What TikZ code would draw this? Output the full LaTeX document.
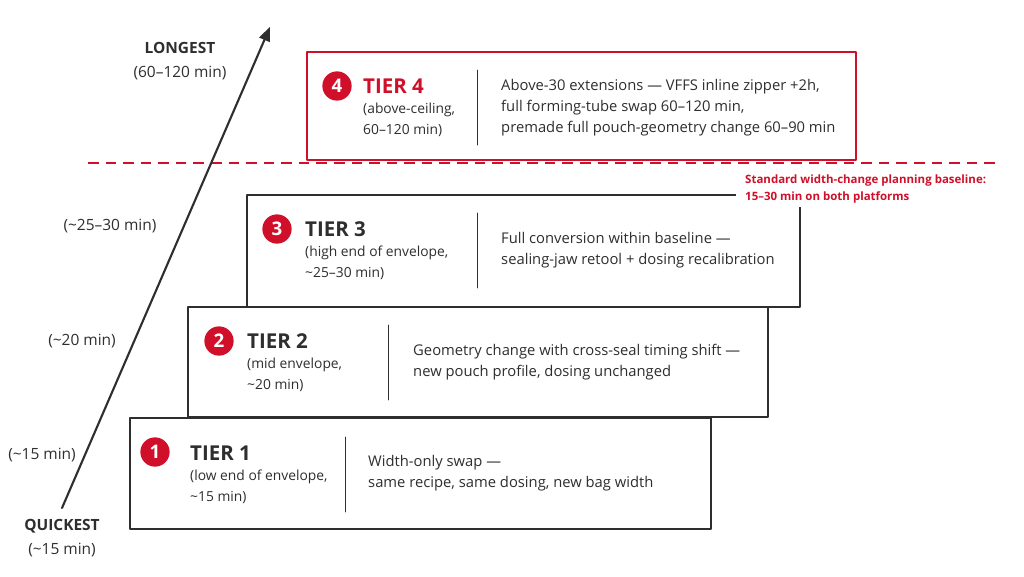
\documentclass[tikz,border=0pt]{standalone}
\usepackage{fontspec}
\setmainfont{Open Sans}
\usetikzlibrary{arrows}
\definecolor{tierred}{HTML}{D0102A}
\definecolor{ink}{HTML}{2E2E2E}
\tikzset{
  tierbox/.style={draw=ink, line width=1.7pt, fill=white},
  topbox/.style={draw=tierred, line width=1.7pt, fill=white},
  badge/.style={circle, fill=tierred, text=white, inner sep=0pt, minimum size=25pt, font=\bfseries\fontsize{16}{16}\selectfont},
  tiername/.style={anchor=west, inner sep=0pt, text=ink, font=\bfseries\fontsize{17.5}{17.5}\selectfont},
  tiersub/.style={anchor=west, inner sep=0pt, align=left, text=ink, font=\fontsize{11.8}{18}\selectfont},
  tierdesc/.style={anchor=west, inner sep=0pt, align=left, text=ink, font=\fontsize{12.6}{18}\selectfont},
  divider/.style={draw=ink, line width=0.8pt},
  axislabel/.style={inner sep=0pt, align=center, text=ink, font=\fontsize{13.2}{20}\selectfont},
}
\begin{document}
\begin{tikzpicture}[line cap=round,line join=round,>=triangle 45,x=0.03cm,y=-0.03cm]
		\useasboundingbox (0,0) rectangle (1024,576);
		% Etage 4
		\draw[topbox] (307,52) rectangle (856,160);
		\node[badge] (b4) at (337,86) {4};
		\node[tiername, text=tierred] (n4) at (363,86) {TIER 4};
		\node[tiersub] (s4) at (363,119.5) {(above-ceiling,\\60–120 min)};
		\draw[divider] (477,70)--(477,145);
		\node[tierdesc] (d4) at (501,108) {Above-30 extensions — VFFS inline zipper +2h,\\full forming-tube swap 60–120 min,\\premade full pouch-geometry change 60–90 min};
		% ligne de base
		\draw[tierred, line width=1.6pt, dash pattern=on 9pt off 6pt, line cap=butt] (88,163)--(1000,163);
		% Etage 3
		\draw[tierbox] (247,195) rectangle (800,307);
		\node[badge] (b3) at (277,229) {3};
		\node[tiername] (n3) at (305,229) {TIER 3};
		\node[tiersub] (s3) at (305,262.5) {(high end of envelope,\\\textasciitilde25–30 min)};
		\draw[divider] (477,213)--(477,288);
		\node[tierdesc] (d3) at (501,250) {Full conversion within baseline —\\sealing-jaw retool + dosing recalibration};
		\node[anchor=west, fill=white, inner xsep=2.7mm, inner ysep=1.4mm, align=left, text=tierred, font=\bfseries\fontsize{9.8}{13.8}\selectfont] (base) at (736,189) {Standard width-change planning baseline:\\15–30 min on both platforms};
		% Etage 2
		\draw[tierbox] (188,307) rectangle (768,417);
		\node[badge] (b2) at (219,341) {2};
		\node[tiername] (n2) at (247,341) {TIER 2};
		\node[tiersub] (s2) at (247,374.5) {(mid envelope,\\\textasciitilde20 min)};
		\draw[divider] (388,325)--(388,400);
		\node[tierdesc] (d2) at (413,362) {Geometry change with cross-seal timing shift —\\new pouch profile, dosing unchanged};
		% Etage 1
		\draw[tierbox] (130,418) rectangle (711,529);
		\node[badge] (b1) at (155,452) {1};
		\node[tiername] (n1) at (190,453) {TIER 1};
		\node[tiersub] (s1) at (190,486.5) {(low end of envelope,\\\textasciitilde15 min)};
		\draw[divider] (345,437)--(345,512);
		\node[tierdesc] (d1) at (368,473.5) {Width-only swap —\\same recipe, same dosing, new bag width};
		% axe
		\coordinate (lo) at (62,508);
		\coordinate (hi) at (270,27);
		\draw[->, ink, line width=1.8pt] (lo)--(hi);
		\node[axislabel] (longest) at (180,61) {\bfseries LONGEST\\(60–120 min)};
		\node[axislabel] (a3) at (110,226) {(\textasciitilde25–30 min)};
		\node[axislabel] (a2) at (82,341) {(\textasciitilde20 min)};
		\node[axislabel] (a1) at (42,455) {(\textasciitilde15 min)};
		\node[axislabel] (quickest) at (62,538) {\bfseries QUICKEST\\(\textasciitilde15 min)};
		\end{tikzpicture}
\end{document}
